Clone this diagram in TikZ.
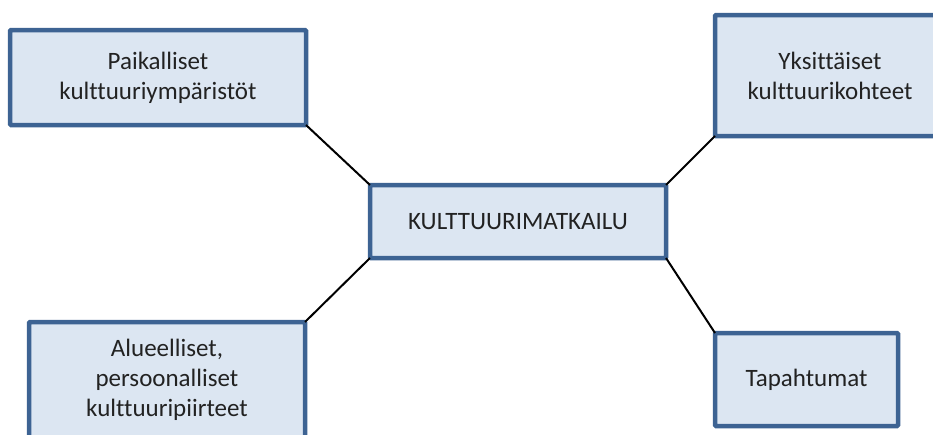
\documentclass[tikz,border=0pt]{standalone}
\usepackage{fontspec}
\setmainfont{Carlito}[Ligatures={NoCommon}]
\usetikzlibrary{shadows}
\definecolor{boxline}{HTML}{3D6393}
\definecolor{boxfill}{HTML}{DCE6F2}
\definecolor{txt}{HTML}{222222}
\begin{document}
\begin{tikzpicture}[x=1pt,y=-1pt,
  box/.style={draw=boxline, fill=boxfill, line width=4.5pt, rectangle, rounded corners=1pt,
    align=center, text=txt, inner sep=0pt, outer sep=0pt,
    font=\fontsize{25}{30}\selectfont,
    drop shadow={shadow xshift=1.5pt, shadow yshift=-1.5pt, opacity=0.25}},
  conn/.style={line width=2pt, black}]
\useasboundingbox (0,0) rectangle (933,434);
\clip (0,0) rectangle (933,434);
\node[box, minimum width=296pt, minimum height=95pt] (tl) at (158,77.5) {Paikalliset\\kulttuuriympäristöt};
\node[box, minimum width=296pt, minimum height=73pt] (c) at (518,221.5) {KULTTUURIMATKAILU};
\node[box, minimum width=230pt, minimum height=121pt] (tr) at (830,75.5) {Yksittäiset\\kulttuurikohteet};
\node[box, minimum width=276pt, minimum height=116pt] (bl) at (167,380) {Alueelliset,\\persoonalliset\\kulttuuripiirteet};
\node[box, minimum width=183pt, minimum height=93pt] (br) at (806.5,379.5) {Tapahtumat};
\draw[conn] (tl.south east) -- (c.north west);
\draw[conn] (c.north east) -- (tr.south west);
\draw[conn] (c.south west) -- (bl.north east);
\draw[conn] (c.south east) -- (br.north west);
\end{tikzpicture}
\end{document}
